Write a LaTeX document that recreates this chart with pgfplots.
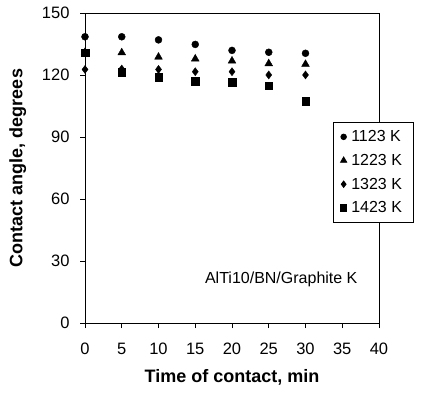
\documentclass[border=0pt]{standalone}
\usepackage{fontspec}
\setmainfont{Liberation Sans}
\usepackage{pgfplots}
\pgfplotsset{compat=1.18}
\begin{document}
\begin{tikzpicture}[x=1pt,y=1pt]
\useasboundingbox (-85,-73) rectangle (337,323);
\begin{axis}[
  scale only axis, width=294pt, height=310pt,
  at={(0,0)}, anchor=south west,
  xmin=0, xmax=40, ymin=0, ymax=150,
  xtick={0,5,...,40}, ytick={0,30,...,150},
  tick align=outside, major tick length=5pt,
  xtick pos=bottom, ytick pos=left,
  axis line style={black, line width=0.8pt},
  every tick/.style={black, line width=0.8pt},
  /pgf/number format/assume math mode=true,
  ticklabel style={font=\fontsize{16.5}{16.5}\selectfont},
  xticklabel style={yshift=-11pt, text height=12pt, text depth=0pt},
  yticklabel style={xshift=-7pt},
  xlabel={\textbf{Time of contact, min}},
  ylabel={\textbf{Contact angle, degrees}},
  label style={font=\fontsize{18}{18}\selectfont},
  xlabel style={yshift=-8pt},
  ylabel style={yshift=9pt},
  legend style={at={(0.844,0.648)}, anchor=north west, draw=black, line width=0.8pt,
    font=\fontsize{16}{16}\selectfont, row sep=7pt, inner ysep=6pt, inner xsep=7pt,
    legend cell align=left, nodes={inner xsep=4.5pt}},
  legend image code/.code={\draw[#1, scale=0.8] plot coordinates {(0.12cm,0cm)};},
]
\addplot[only marks, mark=*, mark size=3.5pt, black] coordinates {
(0,138.5) (5,138.5) (10,137) (15,134.8) (20,131.9) (25,131) (30,130.5)};
\addplot[only marks, mark=triangle*, mark size=4.5pt, black] coordinates {
(0,131) (5,130.8) (10,128.7) (15,127.8) (20,126.8) (25,125.5) (30,125.2)};
\addplot[only marks, mark=diamond*, mark size=4pt, black] coordinates {
(0,122.7) (5,122.9) (10,122.7) (15,121.6) (20,121.6) (25,120) (30,120)};
\addplot[only marks, mark=square*, mark size=3.8pt, black] coordinates {
(0,130.8) (5,121.3) (10,118.9) (15,116.9) (20,116.4) (25,114.8) (30,107.3)};
\legend{1123 K,1223 K,1323 K,1423 K}
\node[font=\fontsize{16}{16}\selectfont] at (axis cs:26.7,21.3) {AlTi10/BN/Graphite K};
\end{axis}
\end{tikzpicture}
\end{document}
